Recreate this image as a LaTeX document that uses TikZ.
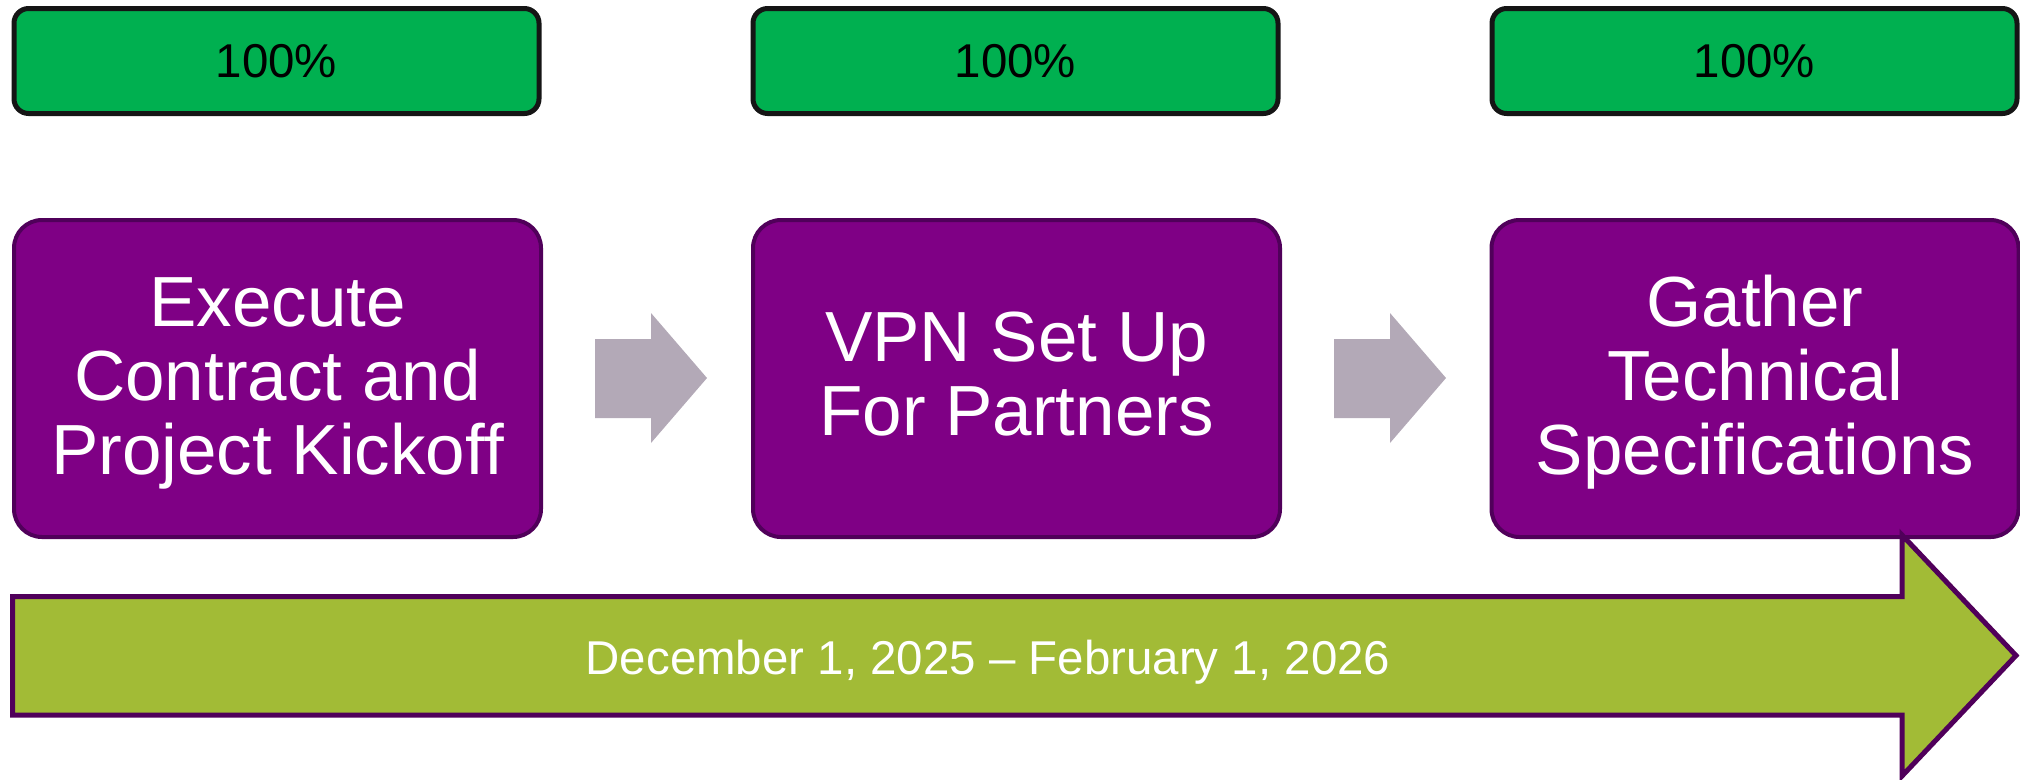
\documentclass[tikz,border=0pt]{standalone}
\usepackage{fontspec}
\setmainfont{Liberation Sans}
\definecolor{pgreen}{HTML}{00B050}
\definecolor{ppurple}{HTML}{7F0085}
\definecolor{pline}{HTML}{50005A}
\definecolor{polive}{HTML}{A2BB36}
\definecolor{pgray}{HTML}{B3A9B7}
\definecolor{pblack}{HTML}{151515}
\tikzset{
  pctbox/.style={draw=pblack, fill=pgreen, line width=3.75pt, rounded corners=11pt,
    minimum width=393.75pt, minimum height=78.75pt, inner sep=0pt,
    font=\fontsize{35.6pt}{40pt}\selectfont, text=black},
  taskbox/.style={draw=pline, fill=ppurple, line width=3pt, rounded corners=21pt,
    minimum width=395.25pt, minimum height=237.75pt, inner sep=0pt},
  tasktext/.style={inner sep=0pt, align=center,
    font=\fontsize{53.25pt}{55.5pt}\selectfont, text=white},
  grayarrow/.style={fill=pgray, draw=none},
  timeline/.style={fill=polive, draw=pline, line width=3.75pt, miter limit=10},
  datetext/.style={font=\fontsize{35.6pt}{40pt}\selectfont, text=white, inner sep=0pt}
}
\begin{document}
\begin{tikzpicture}[x=0.75pt,y=-0.75pt]
\useasboundingbox (0,0) rectangle (2020,779);
% percentage boxes
\node[pctbox] (p1) at (276.5,61) {100\%};
\node[pctbox] (p2) at (1015.5,61) {100\%};
\node[pctbox] (p3) at (1754.5,61) {100\%};
% task boxes
\node[taskbox] (t1) at (277.5,378.5) {};
\node[taskbox] (t2) at (1016.5,378.5) {};
\node[taskbox] (t3) at (1755,378.5) {};
\node[tasktext, yshift=-3.4pt] (t1text) at (t1.center) {Execute\\Contract and\\Project Kickoff};
\node[tasktext, yshift=3pt] (t2text) at (t2.center) {VPN Set Up\\For Partners};
\node[tasktext, yshift=-3pt] (t3text) at (t3.center) {Gather\\Technical\\Specifications};
% gray block arrows
\fill[grayarrow] (595,339) -- (651,339) -- (651,313) -- (707,378) -- (651,443) -- (651,418) -- (595,418) -- cycle;
\fill[grayarrow] (1334,339) -- (1390,339) -- (1390,313) -- (1446,378) -- (1390,443) -- (1390,418) -- (1334,418) -- cycle;
% timeline arrow
\draw[timeline] (12.5,596.5) -- (1902,596.5) -- (1902,535) -- (2016,655.5) -- (1902,776) -- (1902,715) -- (12.5,715) -- cycle;
\node[datetext, anchor=base] (date) at (988,674) {December 1, 2025 – February 1, 2026};
\end{tikzpicture}
\end{document}
